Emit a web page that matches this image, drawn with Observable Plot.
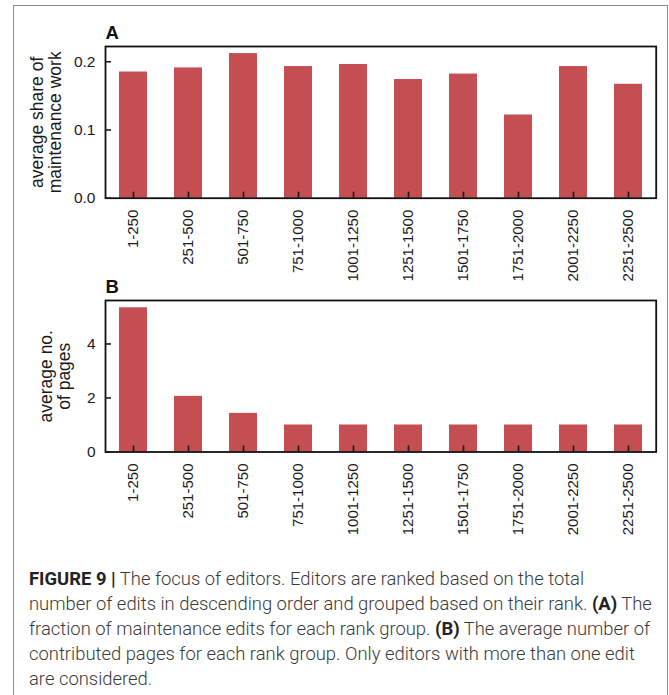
<!DOCTYPE html>
<html>
<head>
<meta charset="utf-8">
<script src="https://cdn.jsdelivr.net/npm/d3@7"></script>
<script src="https://cdn.jsdelivr.net/npm/@observablehq/plot@0.6"></script>
<style>
  html, body { margin: 0; padding: 0; background: #fff; }
  body { width: 669px; height: 695px; overflow: hidden; position: relative; font-family: "Liberation Sans", Arial, sans-serif; }
  #border { position: absolute; left: 13px; top: 5px; width: 653px; height: 760px; border: 1.5px solid #8a8a8a; }
  .panel { position: absolute; left: 0; }
  .panel svg { overflow: visible; }
  #caption { position: absolute; left: 29px; top: 566px; font-family: Roboto, "Open Sans", "Liberation Sans", sans-serif; font-weight: 300; font-size: 18px; line-height: 25px; color: #3a3a3a; white-space: nowrap; }
  #caption b { font-weight: 700; color: #222; }
</style>
</head>
<body>
<div id="border"></div>
<div id="panelA" class="panel" style="top:0px"></div>
<div id="panelB" class="panel" style="top:254px"></div>
<div id="caption">
  <div class="line"><b>FIGURE 9 |</b> The focus of editors. Editors are ranked based on the total</div>
  <div class="line" id="refline">number of edits in descending order and grouped based on their rank. <b>(A)</b> The</div>
  <div class="line">fraction of maintenance edits for each rank group. <b>(B)</b> The average number of</div>
  <div class="line">contributed pages for each rank group. Only editors with more than one edit</div>
  <div class="line">are considered.</div>
</div>
<script>
// ---- data ----
const groups = ["1-250", "251-500", "501-750", "751-1000", "1001-1250", "1251-1500", "1501-1750", "1751-2000", "2001-2250", "2251-2500"];
const maintenanceShare = [0.185, 0.191, 0.212, 0.193, 0.196, 0.174, 0.182, 0.122, 0.193, 0.167];
const avgPages = [5.34, 2.06, 1.43, 1.0, 1.0, 1.0, 1.0, 1.0, 1.0, 1.0];
const ticksA = [0, 0.1, 0.2];
const ticksB = [0, 2, 4];
const titleA = "average share of\nmaintenance work";
const titleB = "average no.\nof pages";

const FONT = "'Liberation Sans', Arial, sans-serif";

function panel(values, yDomain, ticks, fmt, letter, title, titleDx, height, marginBottom) {
  const data = groups.map((g, i) => ({group: g, value: values[i]}));
  return Plot.plot({
    width: 669,
    height,
    marginLeft: 105,
    marginRight: 13.3,
    marginTop: 46,
    marginBottom,
    style: {fontFamily: FONT, fontSize: "15px", color: "#1a1a1a", background: "transparent", overflow: "visible"},
    x: {domain: groups, paddingInner: 0.5, paddingOuter: 0.25, label: null},
    y: {domain: yDomain, label: null},
    marks: [
      Plot.barY(data, {x: "group", y: "value", fill: "#c44e52"}),
      Plot.frame({stroke: "#111", strokeWidth: 1.8}),
      Plot.axisX({tickRotate: -90, tickSize: -6, tickPadding: 17.5, strokeWidth: 1.6, label: null, fontSize: 15, fontFamily: FONT, fill: "#1a1a1a"}),
      Plot.axisY({ticks, tickFormat: fmt, tickSize: -6, tickPadding: 16, strokeWidth: 1.6, label: null, fontSize: 15.5, fontFamily: FONT, fill: "#1a1a1a"}),
      Plot.text([title], {frameAnchor: "left", textAnchor: "middle", rotate: -90, dx: titleDx, fontSize: 17.5, fontFamily: FONT, lineHeight: 1.03, text: d => d, fill: "#1a1a1a"}),
      Plot.text([letter], {frameAnchor: "top-left", dy: -8, lineAnchor: "bottom", textAnchor: "start", fontWeight: "bold", fontSize: 18.5, fontFamily: FONT, text: d => d, fill: "#111"})
    ]
  });
}

document.getElementById("panelA").append(
  panel(maintenanceShare, [0, 0.2224], ticksA, d3.format(".1f"), "A", titleA, -59.7, 270, 72.3)
);
document.getElementById("panelB").append(
  panel(avgPages, [0, 5.61], ticksB, d3.format("d"), "B", titleB, -50.4, 300, 102.5)
);

// fit caption to reference line width
(function fit() {
  const ref = document.getElementById("refline");
  const cap = document.getElementById("caption");
  ref.style.display = "inline-block";
  const w = ref.getBoundingClientRect().width;
  ref.style.display = "";
  if (w > 0) {
    const fs = Math.max(14, Math.min(22, 18 * 623 / w));
    cap.style.fontSize = fs.toFixed(2) + "px";
  }
})();
</script>
</body>
</html>
